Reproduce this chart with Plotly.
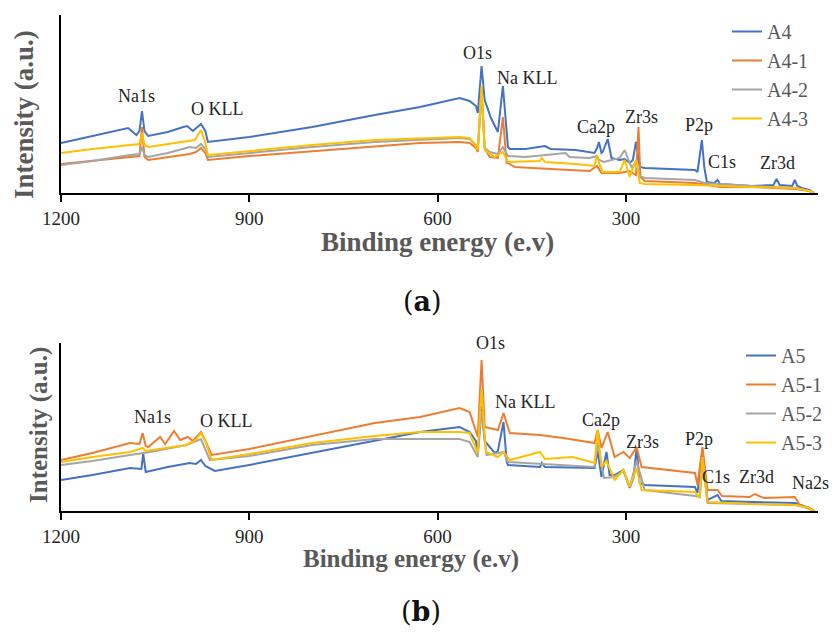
import plotly.graph_objects as go

# ---- XPS survey spectra, panel (a) ----
a4_e = [1200, 1150, 1093, 1080, 1075, 1071, 1067, 1061, 1030, 1005, 999, 990, 977, 970, 966,
        900, 800, 700, 628, 565, 549, 539, 536, 530, 525, 515, 504, 496, 490, 488, 485,
        460, 429, 420, 380, 350, 346, 343, 339, 337, 329, 323, 310, 302, 294, 289, 284,
        278, 270, 190, 186, 179, 175, 171, 160, 154, 150, 100, 65, 60, 55, 35, 31, 27, 20, 8, 0]
a4_i = [50, 57, 65, 58, 62, 82, 62, 57, 61, 66, 67, 62, 69, 62, 51,
        56, 66, 78, 86, 95, 92, 87, 80, 127, 93, 75, 61, 107, 55, 46, 44,
        44, 47, 44, 43, 40, 45, 51, 40, 41, 54, 35, 33, 34, 30, 33, 51,
        26, 25, 23, 21, 53, 25, 11, 10, 13, 9, 7, 8, 14, 8, 7, 13, 7, 5, 3, 0]

a41_e = [1200, 1150, 1090, 1075, 1071, 1067, 1061, 1030, 995, 985, 977, 970, 966,
         900, 800, 700, 628, 565, 549, 539, 536, 530, 525, 517, 504, 496, 490, 488, 477,
         420, 358, 346, 339, 310, 295, 284, 280, 277, 270, 190, 150, 100, 50, 30, 8, 0]
a41_i = [29, 32, 36, 37, 66, 36, 33, 36, 39, 41, 45, 40, 33,
         37, 42, 47, 50, 51, 50, 45, 41, 105, 45, 36, 35, 76, 30, 30, 26,
         24, 22, 27, 20, 20, 22, 18, 66, 16, 12, 10, 6, 6, 5, 4, 2, 0]

a42_e = [1200, 1150, 1090, 1075, 1071, 1067, 1061, 1030, 995, 985, 977, 970, 966,
         900, 800, 700, 628, 565, 549, 539, 536, 530, 525, 517, 504, 496, 488, 460,
         396, 390, 358, 346, 343, 335, 310, 302, 294, 291, 284, 278, 270, 190, 175, 100, 30, 8, 0]
a42_i = [28, 32, 38, 39, 46, 38, 36, 40, 46, 45, 49, 44, 36,
         40, 46, 51, 53, 55, 54, 48, 44, 100, 45, 41, 39, 46, 37, 36,
         40, 36, 35, 37, 33, 31, 35, 43, 30, 26, 30, 17, 15, 13, 10, 7, 5, 2, 0]

a43_e = [1200, 1150, 1090, 1075, 1071, 1067, 1061, 1002, 987, 977, 970, 966,
         900, 800, 700, 628, 565, 549, 539, 536, 530, 525, 509, 496, 488, 437, 434, 429,
         380, 350, 346, 343, 337, 310, 302, 294, 284, 278, 270, 190, 150, 100, 30, 8, 0]
a43_i = [40, 44, 48, 49, 60, 48, 46, 51, 53, 63, 50, 38,
         42, 48, 53, 55, 56, 55, 47, 43, 107, 43, 36, 41, 31, 32, 35, 31,
         29, 27, 38, 30, 21, 21, 33, 16, 33, 10, 9, 8, 7, 6, 5, 2, 0]

# ---- XPS survey spectra, panel (b) ----
a5_e = [1200, 1150, 1090, 1072, 1069, 1065, 1030, 995, 985, 977, 970, 955,
        900, 800, 700, 628, 565, 549, 539, 536, 530, 525, 509, 504, 495, 490, 488,
        437, 434, 429, 350, 345, 339, 331, 326, 318, 304, 294, 288, 283, 278, 270,
        190, 186, 178, 170, 154, 148, 100, 30, 8, 0]
a5_i = [31, 36, 43, 42, 57, 39, 44, 48, 47, 51, 45, 40,
        46, 58, 70, 79, 84, 79, 70, 58, 105, 70, 58, 60, 89, 50, 46,
        44, 48, 44, 43, 60, 34, 59, 36, 36, 41, 23, 33, 63, 28, 26,
        24, 18, 61, 11, 16, 10, 9, 8, 3, 0]

a51_e = [1200, 1150, 1090, 1075, 1070, 1065, 1061, 1042, 1034, 1020, 1010, 998, 990, 977, 970, 960,
         900, 800, 700, 628, 565, 549, 539, 536, 530, 525, 504, 495, 485, 437, 400,
         350, 345, 339, 329, 318, 304, 294, 283, 275, 190, 186, 178, 170, 154, 147,
         103, 95, 80, 31, 23, 0]
a51_i = [51, 58, 68, 67, 78, 65, 64, 74, 67, 80, 71, 74, 70, 79, 70, 56,
         62, 75, 88, 94, 103, 99, 78, 74, 151, 84, 81, 98, 78, 76, 73,
         68, 81, 63, 79, 54, 59, 53, 64, 44, 38, 26, 64, 21, 21, 15,
         14, 17, 13, 14, 6, 0]

a52_e = [1200, 1150, 1090, 1070, 1058, 1000, 977, 963, 900, 800, 700, 628, 565, 549, 539, 536,
         530, 522, 495, 488, 350, 345, 335, 320, 304, 294, 283, 270, 190, 182, 178, 170,
         100, 30, 8, 0]
a52_i = [46, 50, 56, 58, 59, 66, 72, 51, 55, 66, 72, 72, 72, 69, 58, 54,
         100, 56, 59, 49, 44, 68, 33, 34, 40, 24, 50, 21, 15, 14, 50, 8,
         7, 6, 3, 0]

a53_e = [1200, 1150, 1090, 1070, 1065, 1000, 995, 987, 977, 970, 960,
         900, 800, 700, 628, 565, 549, 539, 536, 530, 523, 504, 495, 485, 437, 429,
         385, 350, 345, 339, 331, 318, 304, 294, 283, 275, 190, 183, 178, 170, 100, 30, 8, 0]
a53_i = [49, 54, 59, 63, 60, 66, 68, 70, 78, 70, 51,
         57, 68, 75, 79, 79, 78, 63, 58, 122, 59, 54, 59, 51, 59, 52,
         54, 48, 81, 44, 50, 31, 41, 24, 43, 21, 19, 13, 54, 9, 7, 6, 3, 0]

names_a = ["A4", "A4-1", "A4-2", "A4-3"]
names_b = ["A5", "A5-1", "A5-2", "A5-3"]
colors = ["#4472C4", "#ED7D31", "#A5A5A5", "#FFC000"]
energy_ticks = [1200, 900, 600, 300]

series_a = [(a4_e, a4_i), (a41_e, a41_i), (a42_e, a42_i), (a43_e, a43_i)]
series_b = [(a5_e, a5_i), (a51_e, a51_i), (a52_e, a52_i), (a53_e, a53_i)]

# peak labels: (text, energy, intensity)
labels_a = [("Na1s", 1079, 97), ("O KLL", 950, 84), ("O1s", 536, 140), ("Na KLL", 458, 115),
            ("Ca2p", 348, 66), ("Zr3s", 275, 76), ("P2p", 184, 68), ("C1s", 147, 31),
            ("Zr3d", 58, 30)]
labels_b = [("Na1s", 1055, 94), ("O KLL", 937, 90), ("O1s", 515, 168), ("Na KLL", 461, 109),
            ("Ca2p", 340, 91), ("Zr3s", 273, 69), ("P2p", 184, 72), ("C1s", 157, 34),
            ("Zr3d", 92, 34), ("Na2s", 6, 28)]

SERIF = "Liberation Serif"
W, H = 836, 635

fig = go.Figure()
for (e, i), name, c in zip(series_a, names_a, colors):
    fig.add_trace(go.Scatter(x=e, y=i, name=name, mode="lines",
                             line=dict(color=c, width=2), xaxis="x", yaxis="y",
                             legend="legend"))
for (e, i), name, c in zip(series_b, names_b, colors):
    fig.add_trace(go.Scatter(x=e, y=i, name=name, mode="lines",
                             line=dict(color=c, width=2), xaxis="x2", yaxis="y2",
                             legend="legend2"))

annotations = []
for t, e, v in labels_a:
    annotations.append(dict(text=t, x=e, y=v, xref="x", yref="y", showarrow=False,
                            xanchor="center", yanchor="middle",
                            font=dict(family=SERIF, size=18, color="#262626")))
for t, e, v in labels_b:
    annotations.append(dict(text=t, x=e, y=v, xref="x2", yref="y2", showarrow=False,
                            xanchor="center", yanchor="middle",
                            font=dict(family=SERIF, size=18, color="#262626")))


def paper_text(text, px, py, size, angle=0, family=SERIF, color="#595959"):
    return dict(text=text, x=px / W, y=1 - py / H, xref="paper", yref="paper",
                showarrow=False, textangle=angle, xanchor="center", yanchor="middle",
                font=dict(family=family, size=size, color=color))


# axis titles
annotations.append(paper_text("<b>Binding energy (e.v)</b>", 437, 242, 27))
annotations.append(paper_text("<b>Intensity (a.u.)</b>", 24, 115, 27, angle=-90))
annotations.append(paper_text("<b>Binding energy (e.v)</b>", 411, 559, 25))
annotations.append(paper_text("<b>Intensity (a.u.)</b>", 39, 425, 25, angle=-90))

# panel captions
annotations.append(paper_text("(<b>a</b>)", 422, 301, 27, family="DejaVu Serif", color="#111"))
annotations.append(paper_text("(<b>b</b>)", 421, 611, 27, family="DejaVu Serif", color="#111"))

xdom = [61 / W, 818 / W]
xaxis_common = dict(
    range=[1200, -6], tickvals=energy_ticks, ticks="outside", ticklen=7,
    tickwidth=1.5, tickcolor="black", showline=True, linecolor="black", linewidth=1.5,
    showgrid=False, zeroline=False, domain=xdom,
    tickfont=dict(family=SERIF, size=19, color="#262626"),
)
yaxis_common = dict(showticklabels=False, ticks="", showline=True, linecolor="black",
                    linewidth=1.5, showgrid=False, zeroline=False)
legend_font = dict(family=SERIF, size=20, color="#595959")

fig.update_layout(
    template="none",
    width=W, height=H,
    margin=dict(l=0, r=0, t=0, b=0),
    paper_bgcolor="white", plot_bgcolor="white",
    xaxis=dict(**xaxis_common, anchor="y"),
    yaxis=dict(**yaxis_common, domain=[1 - 193 / H, 1 - 15 / H], range=[0, 178], anchor="x"),
    xaxis2=dict(**xaxis_common, anchor="y2"),
    yaxis2=dict(**yaxis_common, domain=[1 - 511 / H, 1 - 343 / H], range=[0, 168], anchor="x2"),
    legend=dict(x=727 / W, y=1 - 12 / H, xanchor="left", yanchor="top",
                bgcolor="rgba(0,0,0,0)", font=legend_font, itemwidth=30,
                tracegroupgap=0),
    legend2=dict(x=741 / W, y=1 - 336 / H, xanchor="left", yanchor="top",
                 bgcolor="rgba(0,0,0,0)", font=legend_font, itemwidth=30,
                 tracegroupgap=0),
    annotations=annotations,
    showlegend=True,
)

fig.write_html("out.html")
